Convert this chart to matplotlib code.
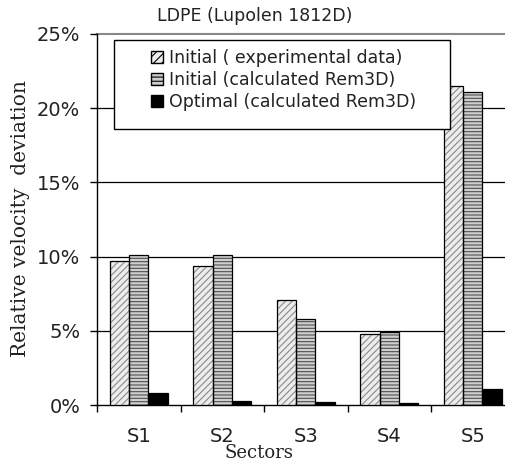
import matplotlib
matplotlib.use("Agg")
import matplotlib.pyplot as plt
import numpy as np
from matplotlib.patches import Patch, Rectangle
from matplotlib.ticker import FuncFormatter

sectors = ["S1", "S2", "S3", "S4", "S5"]
initial_exp = [9.7, 9.4, 7.1, 4.8, 21.5]
initial_calc = [10.1, 10.1, 5.8, 4.9, 21.1]
optimal_calc = [0.8, 0.3, 0.2, 0.15, 1.1]
labels = ["Initial ( experimental data)", "Initial (calculated Rem3D)", "Optimal (calculated Rem3D)"]
title = "LDPE (Lupolen 1812D)"

plt.rcParams['font.family'] = ['DejaVu Sans']
plt.rcParams['hatch.linewidth'] = 0.8

fig = plt.figure(figsize=(5.06, 4.65), dpi=100)
W, H = 506, 465
ax = fig.add_axes([97 / W, 60 / H, 417.5 / W, 371 / H])

x = np.arange(len(sectors))
bw = 0.23

# experimental: light fill, diagonal gray hatch
ax.bar(x - bw, initial_exp, bw, color="#ececec", edgecolor="#8a8a8a", hatch="/////", linewidth=0, zorder=3)
ax.bar(x - bw, initial_exp, bw, color="none", edgecolor="black", linewidth=0.9, zorder=4)
# calculated: horizontal dense hatch
ax.bar(x, initial_calc, bw, color="#cfcfcf", edgecolor="#505050", hatch="-----", linewidth=0, zorder=3)
ax.bar(x, initial_calc, bw, color="none", edgecolor="black", linewidth=0.9, zorder=4)
# optimal: black
ax.bar(x + bw, optimal_calc, bw, color="black", edgecolor="black", linewidth=0.9, zorder=3)

ax.set_xlim(-0.5, len(sectors) - 0.5)
ax.set_ylim(0, 25)
ax.set_yticks([0, 5, 10, 15, 20, 25])
ax.yaxis.set_major_formatter(FuncFormatter(lambda v, p: f"{int(v)}%"))
for yv in [5, 10, 15, 20]:
    ax.axhline(yv, color="black", linewidth=0.9, zorder=1)
ax.axhline(25, color="#888888", linewidth=1.5, zorder=1, clip_on=False)

ax.set_xticks(np.arange(-0.5, len(sectors), 1.0))
ax.set_xticklabels([])
ax.set_xticks(x, minor=True)
ax.set_xticklabels(sectors, minor=True)
ax.tick_params(axis="x", which="major", direction="out", length=5, width=1)
ax.tick_params(axis="x", which="minor", length=0, pad=16, labelsize=14, labelcolor="#222222")
ax.tick_params(axis="y", direction="out", length=5, width=1, labelsize=14, pad=7, labelcolor="#222222")

for s in ["top", "right"]:
    ax.spines[s].set_visible(False)
ax.spines["left"].set_linewidth(1.0)
ax.spines["bottom"].set_linewidth(1.0)

fig.text(21 / W, 1 - 219 / H, "Relative velocity  deviation", family=["DejaVu Serif"], fontsize=14.5,
         rotation=90, ha="center", va="center", color="#222222")
fig.text(259 / W, 1 - 453 / H, "Sectors", family=["DejaVu Serif"], fontsize=13, ha="center", va="center",
         color="#222222")
fig.text(255 / W, 1 - 16 / H, title, fontsize=12.5, ha="center", va="center", color="#222222")

# legend box
box = Rectangle((114 / W, 1 - 129 / H), (450 - 114) / W, (129 - 40) / H, transform=fig.transFigure,
                facecolor="white", edgecolor="black", linewidth=1.0, zorder=5)
fig.add_artist(box)
handles = [Patch(facecolor="#ececec", edgecolor="black", hatch="////"),
           Patch(facecolor="#cfcfcf", edgecolor="black", hatch="----"),
           Patch(facecolor="black", edgecolor="black")]
leg = fig.legend(handles, labels, loc="upper left", bbox_to_anchor=(139 / W, 1 - 37 / H),
                 frameon=False, fontsize=12.5, handlelength=0.7, handleheight=0.7,
                 handletextpad=0.35, labelspacing=0.22, borderpad=0.2, labelcolor="#222222")
leg.set_zorder(6)

fig.savefig("out.png", dpi=100)
